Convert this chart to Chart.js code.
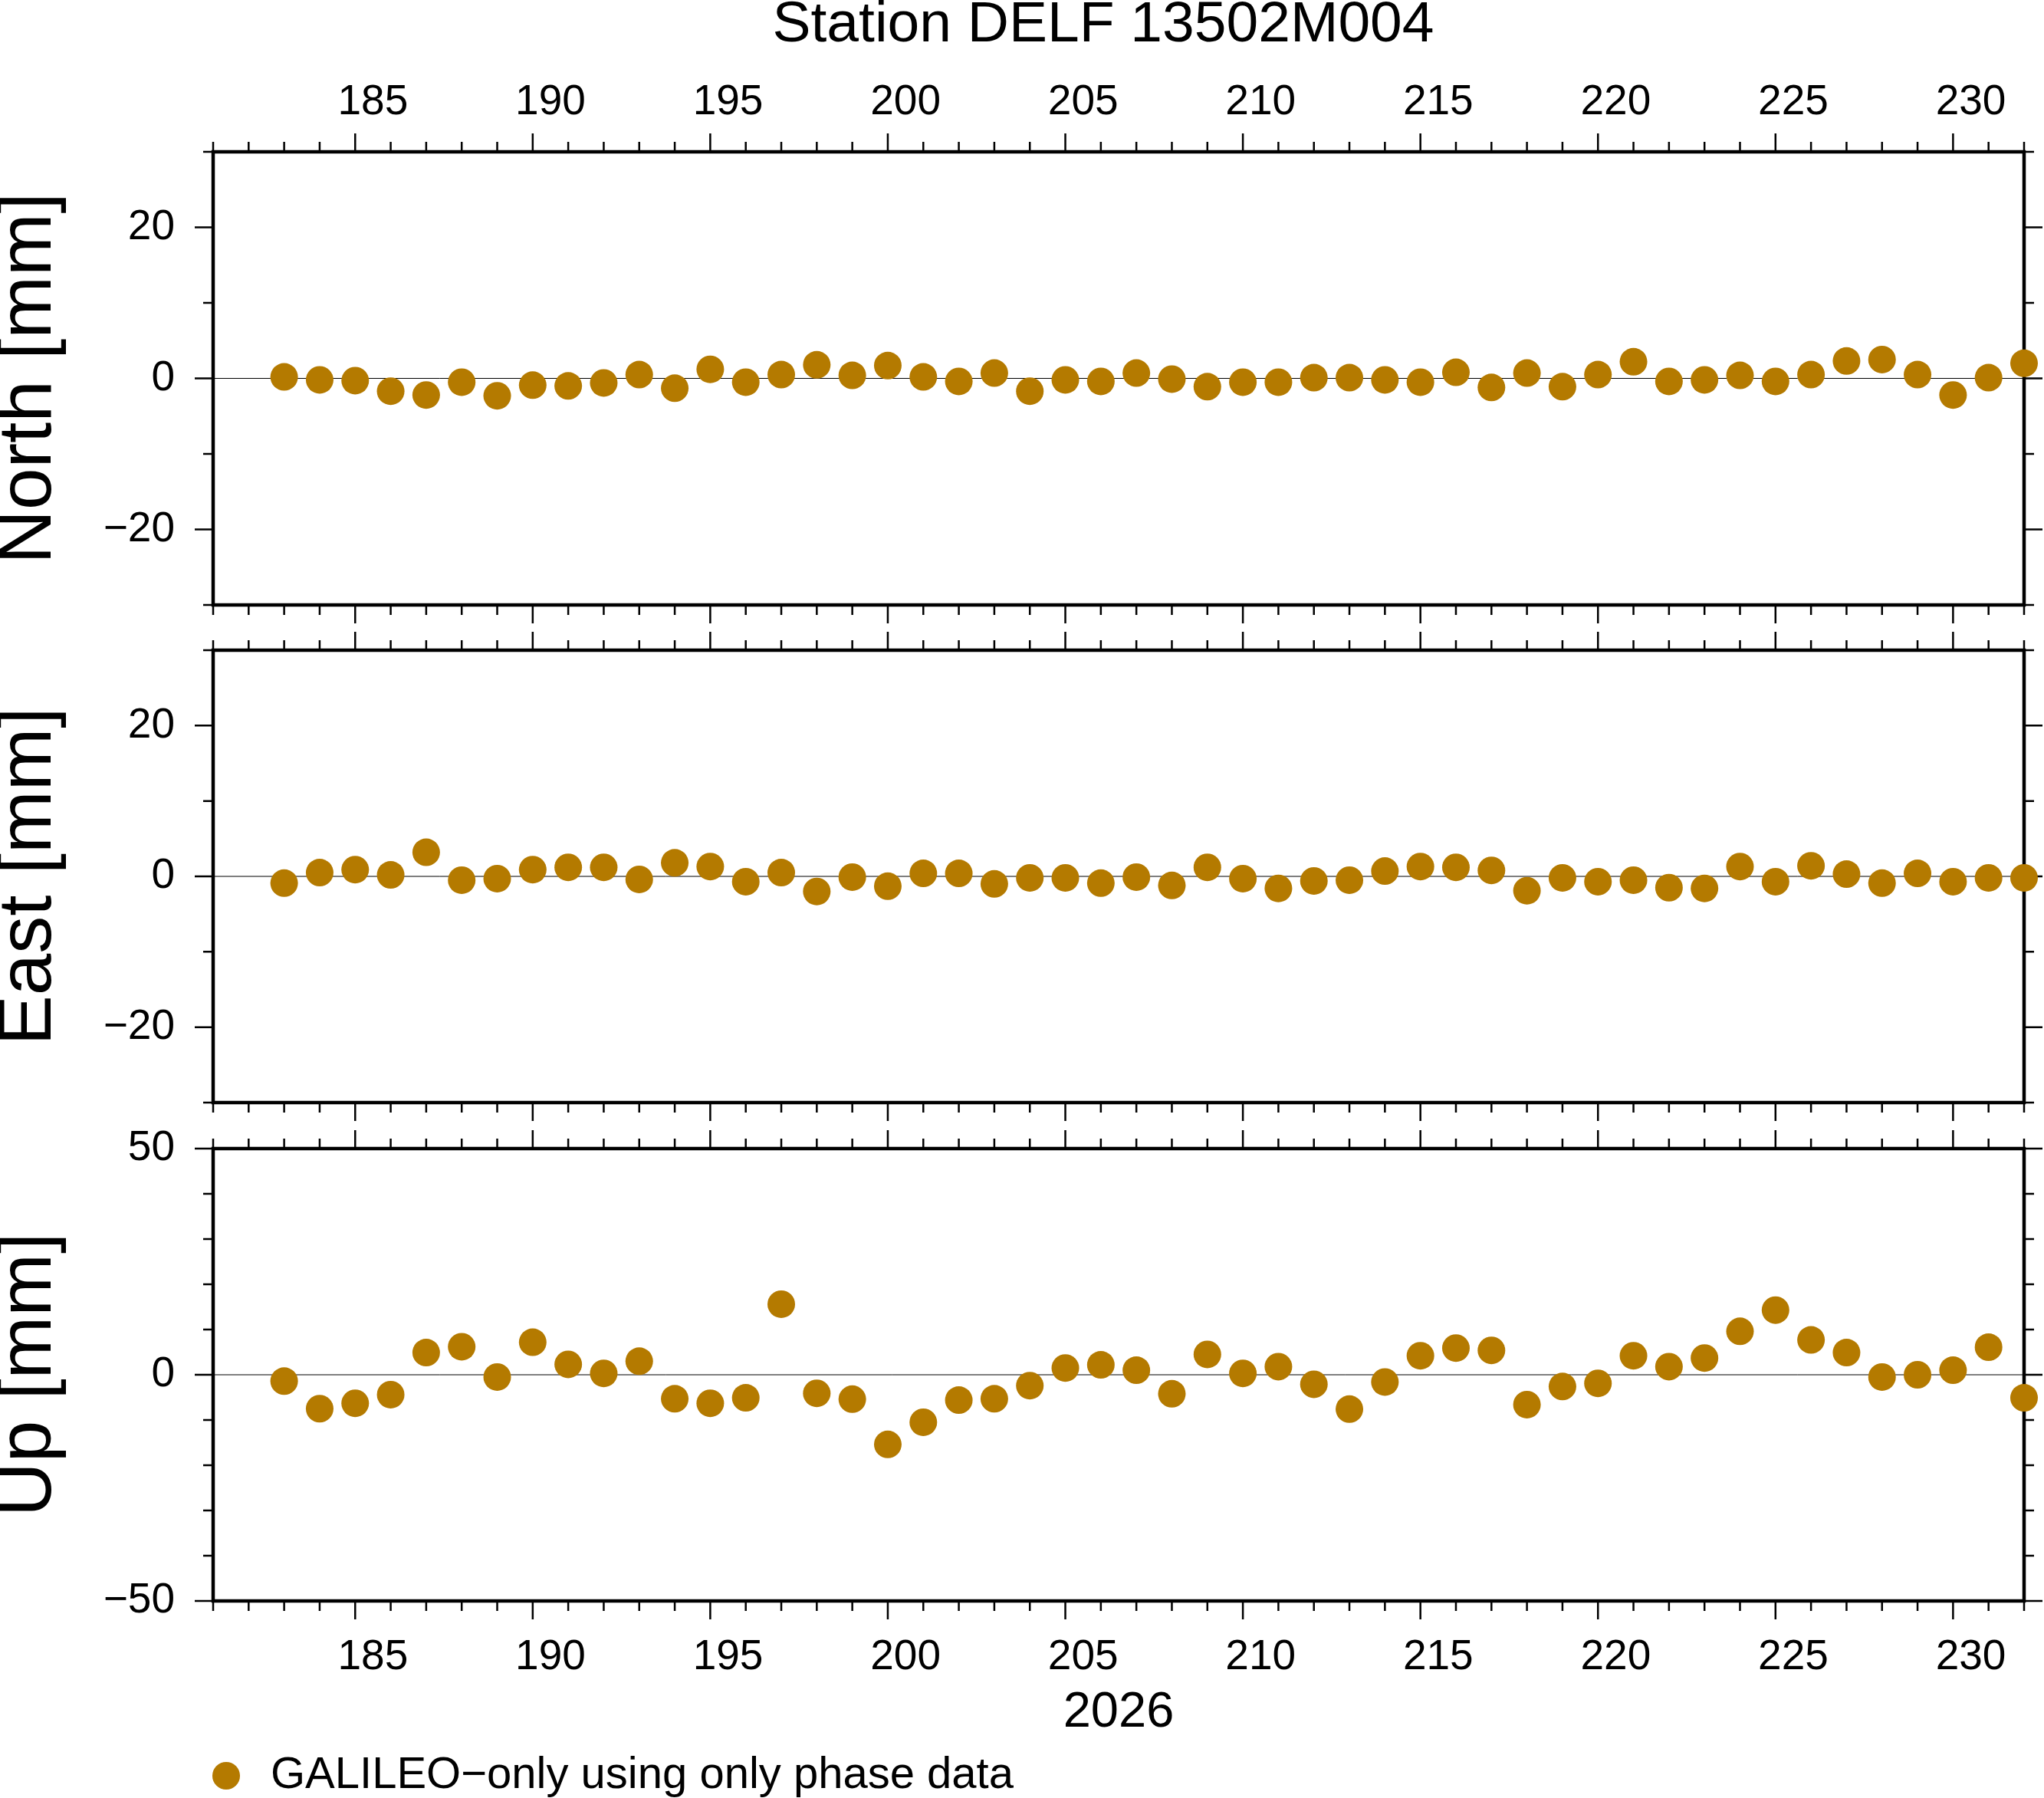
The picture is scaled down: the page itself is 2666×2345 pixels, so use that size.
<!DOCTYPE html>
<html>
<head>
<meta charset="utf-8">
<script src="https://cdn.jsdelivr.net/npm/chart.js@4.4.1/dist/chart.umd.min.js"></script>
<style>
  html, body { margin: 0; padding: 0; background: #fff; overflow: hidden; }
  canvas { position: absolute; left: 0; }
</style>
</head>
<body>
<canvas id="north" width="2666" height="818" style="top:0px"></canvas>
<canvas id="east" width="2666" height="649" style="top:818px"></canvas>
<canvas id="up" width="2666" height="888" style="top:1467px"></canvas>
<script>
// --------------------------- Data (day of year 2026, residuals in mm)

const days = [183, 184, 185, 186, 187, 188, 189, 190, 191, 192,
              193, 194, 195, 196, 197, 198, 199, 200, 201, 202,
              203, 204, 205, 206, 207, 208, 209, 210, 211, 212,
              213, 214, 215, 216, 217, 218, 219, 220, 221, 222,
              223, 224, 225, 226, 227, 228, 229, 230, 231, 232];

const north = [0.2, -0.2, -0.3, -1.7, -2.2, -0.5, -2.3, -0.9, -1.0, -0.6,
               0.5, -1.3, 1.2, -0.5, 0.5, 1.8, 0.4, 1.7, 0.2, -0.4,
               0.7, -1.7, -0.2, -0.4, 0.7, -0.1, -1.1, -0.5, -0.5, 0.1,
               0.1, -0.2, -0.5, 0.8, -1.2, 0.7, -1.1, 0.5, 2.2, -0.4,
               -0.2, 0.4, -0.4, 0.5, 2.3, 2.5, 0.5, -2.2, 0.1, 2.0];

const east = [-0.9, 0.5, 0.9, 0.2, 3.2, -0.5, -0.3, 0.9, 1.2, 1.2,
              -0.4, 1.8, 1.3, -0.7, 0.5, -2.0, -0.1, -1.3, 0.4, 0.4,
              -1.0, -0.2, -0.2, -0.9, -0.1, -1.2, 1.2, -0.3, -1.6, -0.6,
              -0.5, 0.7, 1.3, 1.2, 0.8, -1.9, -0.2, -0.7, -0.5, -1.5,
              -1.6, 1.3, -0.7, 1.4, 0.3, -0.9, 0.4, -0.7, -0.2, -0.2];

const up = [-1.4, -7.5, -6.3, -4.4, 4.9, 6.2, -0.5, 7.2, 2.3, 0.3,
            3.0, -5.3, -6.3, -5.1, 15.6, -4.1, -5.4, -15.4, -10.5, -5.6,
            -5.3, -2.4, 1.5, 2.2, 1.0, -4.2, 4.5, 0.3, 1.8, -2.1,
            -7.6, -1.6, 4.2, 5.9, 5.4, -6.6, -2.6, -1.9, 4.2, 1.8,
            3.7, 9.6, 14.3, 7.7, 4.9, -0.5, 0.0, 1.0, 6.1, -5.1];

const dayLabels = [185, 190, 195, 200, 205, 210, 215, 220, 225, 230];
const neTicks = [-20, 0, 20];
const upTicks = [-50, 0, 50];

const seriesName = 'GALILEO\u2212only using only phase data';
const DOT = '#b47a00';
const FONT = "'Liberation Sans', Arial, Helvetica, sans-serif";

Chart.defaults.font.family = FONT;
Chart.defaults.color = '#000';

// --------------------------- Plugins

// GMT-like frame: thick box, outward ticks on all four sides, zero line
const gmtFrame = {
    id: 'gmtFrame',
    beforeDatasetsDraw(chart, args, opts) {
        const {ctx, chartArea: a} = chart;
        const x = chart.scales.x;
        const y = chart.scales.y;
        ctx.save();

        const y0 = y.getPixelForValue(0);
        ctx.strokeStyle = '#000';
        ctx.lineWidth = 1;
        ctx.beginPath();
        ctx.moveTo(a.left, y0);
        ctx.lineTo(a.right, y0);
        ctx.stroke();

        ctx.lineWidth = 2.5;
        ctx.beginPath();
        for (let d = x.min; d <= x.max; d++) {
            const px = x.getPixelForValue(d);
            const len = d % 5 === 0 ? 24 : 13;
            ctx.moveTo(px, a.top);
            ctx.lineTo(px, a.top - len);
            ctx.moveTo(px, a.bottom);
            ctx.lineTo(px, a.bottom + len);
        }
        for (let v = y.min; v <= y.max; v += 10) {
            const py = y.getPixelForValue(v);
            const len = opts.major.includes(v) ? 24 : 13;
            ctx.moveTo(a.left, py);
            ctx.lineTo(a.left - len, py);
            ctx.moveTo(a.right, py);
            ctx.lineTo(a.right + len, py);
        }
        ctx.stroke();

        ctx.lineWidth = 4.5;
        ctx.strokeRect(a.left, a.top, a.right - a.left, a.bottom - a.top);
        ctx.restore();
    }
};

// move title / legend sideways after layout (title sits over the frame, legend under the axis)
const nudge = {
    id: 'nudge',
    afterLayout(chart, args, opts) {
        if (opts.title && chart.titleBlock) {
            chart.titleBlock.left += opts.title;
            chart.titleBlock.right += opts.title;
        }
        if (opts.legend && chart.legend) {
            chart.legend.left += opts.legend;
            chart.legend.right += opts.legend;
        }
    }
};

// --------------------------- Panels

// fixed axis boxes so the three frames line up exactly
function fixHeight(h) {
    return (axis) => {
        axis.height = h;
        axis.paddingLeft = 0;
        axis.paddingRight = 0;
    };
}

function fixWidth(w) {
    return (axis) => {
        axis.width = w;
        axis.paddingTop = 0;      // label padding would otherwise shrink the chart area
        axis.paddingBottom = 0;
    };
}

function makePanel(id, values, cfg) {
    const tickFont = {size: 55};
    const points = days.map((d, i) => ({x: d, y: values[i]}));

    const config = {
        type: 'scatter',
        data: {
            datasets: [{
                label: seriesName,
                data: points,
                backgroundColor: DOT,
                borderColor: DOT,
                borderWidth: 0,
                pointRadius: 18,
                pointHoverRadius: 18,
                clip: false
            }]
        },
        options: {
            responsive: false,
            animation: false,
            devicePixelRatio: 1,
            events: [],
            layout: {padding: {left: 0, right: 26, top: 0, bottom: 0}, autoPadding: false},
            plugins: {
                title: {
                    display: !!cfg.title,
                    text: cfg.title || '',
                    color: '#000',
                    font: {size: 75, weight: 'normal', lineHeight: 0.8},
                    padding: {top: 3, bottom: 0}
                },
                legend: {
                    display: !!cfg.legend,
                    position: 'bottom',
                    align: 'start',
                    labels: {
                        usePointStyle: true,
                        pointStyle: 'circle',
                        boxWidth: 58,
                        boxHeight: 25.5,
                        padding: 10,
                        color: '#000',
                        font: {size: 58}
                    }
                },
                tooltip: {enabled: false},
                gmtFrame: {major: cfg.yTicks},
                nudge: {title: 119, legend: 256}
            },
            scales: {
                x: {
                    type: 'linear',
                    position: 'bottom',
                    min: 181,
                    max: 232,
                    grid: {display: false, drawTicks: false},
                    border: {display: false},
                    afterBuildTicks: (axis) => {
                        axis.ticks = dayLabels.map(d => ({value: d + 0.5}));   // GMT centres day labels
                    },
                    ticks: {
                        display: !!cfg.bottomLabels,
                        autoSkip: false,
                        maxRotation: 0,
                        minRotation: 0,
                        padding: 41,
                        font: tickFont,
                        callback: (v) => String(Math.floor(v))
                    },
                    title: {
                        display: !!cfg.bottomLabels,
                        text: '2026',
                        font: {size: 65, lineHeight: 1},
                        padding: {top: 0, bottom: 10.5}
                    },
                    afterFit: fixHeight(cfg.bottomH)
                },
                xt: {
                    type: 'linear',
                    position: 'top',
                    min: 181,
                    max: 232,
                    grid: {display: false, drawTicks: false},
                    border: {display: false},
                    afterBuildTicks: (axis) => {
                        axis.ticks = dayLabels.map(d => ({value: d + 0.5}));
                    },
                    ticks: {
                        display: !!cfg.topLabels,
                        autoSkip: false,
                        maxRotation: 0,
                        minRotation: 0,
                        padding: 31,
                        font: tickFont,
                        callback: (v) => String(Math.floor(v))
                    },
                    afterFit: fixHeight(cfg.topH)
                },
                y: {
                    type: 'linear',
                    position: 'left',
                    min: cfg.yMin,
                    max: cfg.yMax,
                    grid: {display: false, drawTicks: false},
                    border: {display: false},
                    afterBuildTicks: (axis) => {
                        axis.ticks = cfg.yTicks.map(v => ({value: v}));
                    },
                    ticks: {
                        padding: 50,
                        font: tickFont,
                        callback: (v) => String(v).replace('-', '\u2212')
                    },
                    title: {
                        display: true,
                        text: cfg.yTitle,
                        font: {size: 98, lineHeight: 0.76},
                        padding: {top: 2, bottom: 0}
                    },
                    afterFit: fixWidth(278)
                }
            }
        },
        plugins: [gmtFrame, nudge]
    };

    return new Chart(document.getElementById(id), config);
}

makePanel('north', north, {
    title: 'Station DELF 13502M004',
    yTitle: 'North [mm]', yMin: -30, yMax: 30, yTicks: neTicks,
    topLabels: true, topH: 135, bottomH: 29
});

makePanel('east', east, {
    yTitle: 'East [mm]', yMin: -30, yMax: 30, yTicks: neTicks,
    topH: 30, bottomH: 29
});

makePanel('up', up, {
    yTitle: 'Up [mm]', yMin: -50, yMax: 50, yTicks: upTicks,
    topH: 31, bottomH: 189, bottomLabels: true, legend: true
});
</script>
</body>
</html>
